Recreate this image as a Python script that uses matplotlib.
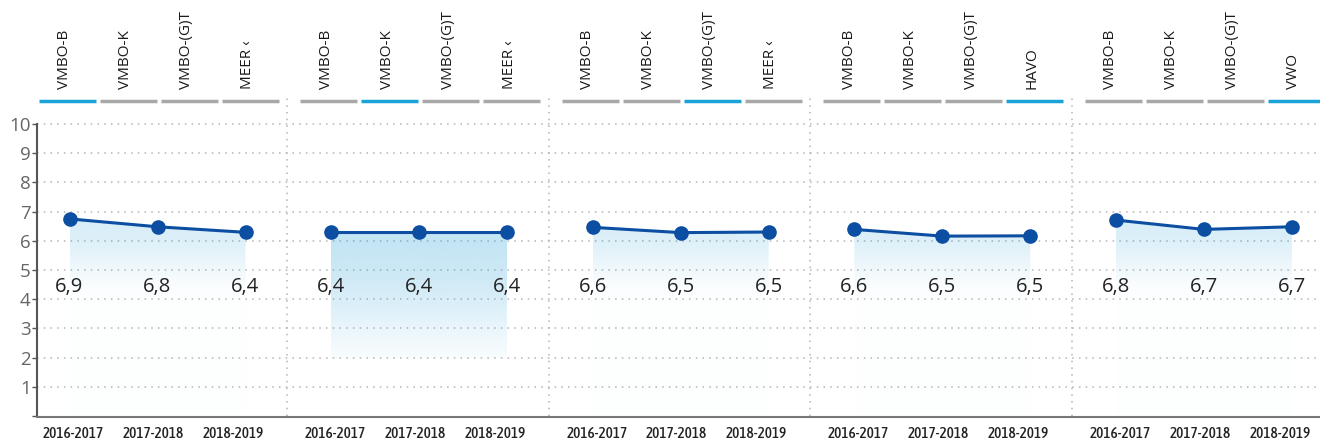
import matplotlib
matplotlib.use("Agg")
import matplotlib.pyplot as plt
import numpy as np
from matplotlib.patches import Polygon
from matplotlib.transforms import blended_transform_factory

# data
YEARS = ["2016-2017", "2017-2018", "2018-2019"]
TABS = [
    ["VMBO-B", "VMBO-K", "VMBO-(G)T", "MEER \u2039"],
    ["VMBO-B", "VMBO-K", "VMBO-(G)T", "MEER \u2039"],
    ["VMBO-B", "VMBO-K", "VMBO-(G)T", "MEER \u2039"],
    ["VMBO-B", "VMBO-K", "VMBO-(G)T", "HAVO"],
    ["VMBO-B", "VMBO-K", "VMBO-(G)T", "VWO"],
]
ACTIVE_TAB = [0, 1, 2, 3, 3]
SCORES = [
    [6.75, 6.48, 6.29],
    [6.29, 6.29, 6.29],
    [6.46, 6.28, 6.30],
    [6.39, 6.16, 6.17],
    [6.71, 6.39, 6.48],
]
SCORE_LABELS = [
    ["6,9", "6,8", "6,4"],
    ["6,4", "6,4", "6,4"],
    ["6,6", "6,5", "6,5"],
    ["6,6", "6,5", "6,5"],
    ["6,8", "6,7", "6,7"],
]

# styling
LINE_BLUE = "#0b4ea2"
TAB_BLUE = "#1aa3d9"
TAB_GREY = "#a8a8aa"
GRID = "#b4b4b4"
FILL_RGB = np.array([40, 160, 215]) / 255
PANEL_W = 261.6
FILL_FLOOR = [0.0, 2.0, 0.0, 0.0, 0.0]
FILL_PROFILE = {
    "soft": ([0.0, 4.3, 5.0, 6.0, 7.0], [0.008, 0.012, 0.07, 0.16, 0.20]),
    "strong": ([2.0, 3.0, 4.0, 5.0, 6.3], [0.03, 0.10, 0.18, 0.24, 0.29]),
}
FILL_KIND = ["soft", "strong", "soft", "soft", "soft"]

fig = plt.figure(figsize=(13.2, 4.41), dpi=100)
ax = fig.add_axes([37 / 1320, 25 / 441, 1283 / 1320, 318.3 / 441])
XLIM = (11.5, 1294.5)
YLIM = (0, 10.9)
xaxis_tr = blended_transform_factory(ax.transData, ax.transAxes)

# grid
for yv in range(1, 11):
    ax.plot(XLIM, [yv, yv], color=GRID, lw=1.1, ls=(0, (1, 3.4)), zorder=0)
for p in range(1, 5):
    ax.plot([p * PANEL_W] * 2, [0, YLIM[1]], color=GRID, lw=1.1, ls=(0, (1, 3.4)),
            zorder=0, clip_on=False)


def gradient_fill(xs, ys, floor, kind):
    top = max(ys)
    yy = np.linspace(floor, top, 200)
    stops, alphas = FILL_PROFILE[kind]
    a = np.interp(yy, stops, alphas)
    img = np.zeros((len(yy), 1, 4))
    img[:, 0, :3] = FILL_RGB
    img[:, 0, 3] = a
    im = ax.imshow(img, extent=[xs[0], xs[-1], floor, top], origin="lower",
                   aspect="auto", interpolation="bilinear", zorder=1)
    verts = list(zip(xs, ys)) + [(xs[-1], floor), (xs[0], floor)]
    poly = Polygon(verts, closed=True, transform=ax.transData)
    im.set_clip_path(poly)


for p in range(5):
    x0 = p * PANEL_W
    xs = [x0 + 44 + 88 * i for i in range(len(YEARS))]
    gradient_fill(xs, SCORES[p], FILL_FLOOR[p], FILL_KIND[p])
    ax.plot(xs, SCORES[p], color=LINE_BLUE, lw=2.2, marker="o", ms=9.5, zorder=3)
    for x, lab in zip(xs, SCORE_LABELS[p]):
        ax.text(x, 4.42, lab, ha="center", va="center", fontsize=14.5,
                family="Open Sans", color="#222222", zorder=4)

    # year labels under each panel
    for i, year in enumerate(YEARS):
        ax.text(x0 + 48 + 80 * i, -0.057, year, transform=xaxis_tr, ha="center",
                va="center", fontsize=11, family="Asap Condensed", weight="medium",
                color="#222222", clip_on=False)

    # header tabs
    for t, name in enumerate(TABS[p]):
        bx = x0 + 13 + 61 * t
        col = TAB_BLUE if t == ACTIVE_TAB[p] else TAB_GREY
        ax.plot([bx, bx + 57], [10.79, 10.79], color=col, lw=2.5,
                solid_capstyle="butt", clip_on=False)
        ax.text(bx + 26, 11.2, name, rotation=90, ha="center", va="bottom",
                fontsize=11, family="Open Sans", color="#1a1a1a", clip_on=False)

ax.set_xlim(*XLIM)
ax.set_ylim(*YLIM)
ax.set_xticks([])

ax.set_yticks(range(0, 11), [""] + [str(v) for v in range(1, 11)],
              fontfamily="Open Sans", fontsize=13.5, color="#666666")
ax.tick_params(axis="y", length=3.6, width=1, color="#555555", pad=1)

for side in ("top", "right"):
    ax.spines[side].set_visible(False)
ax.spines["left"].set_bounds(0, 10)
ax.spines["left"].set_color("#555555")
ax.spines["left"].set_linewidth(1.5)
ax.spines["bottom"].set_color("#777777")
ax.spines["bottom"].set_linewidth(1.5)
ax.spines["bottom"].set_position(("outward", 1))
ax.patch.set_visible(False)

fig.savefig("out.png", dpi=100)
